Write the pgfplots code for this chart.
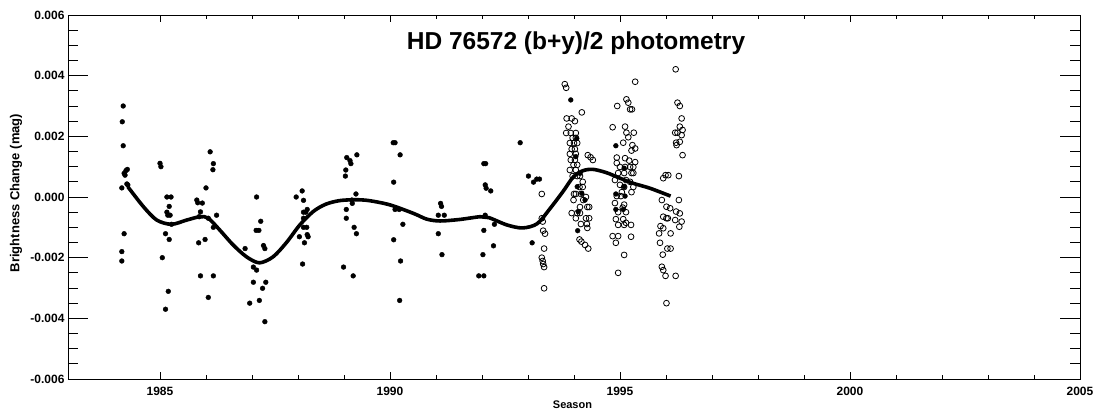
\documentclass[border=0pt]{standalone}
\usepackage{pgfplots}
\pgfplotsset{compat=1.18}
\usepackage{fontspec}
\setmainfont{Liberation Sans}
\pgfplotsset{
  commonax/.style={
    at={(0,0)}, anchor=south west,
    scale only axis, width=1012pt, height=364pt,
    xmin=1983, xmax=2005, ymin=-0.006, ymax=0.006,
    axis line style={line width=0.9pt},
    tick align=inside,
    every tick/.style={line width=0.8pt, black},
    scaled y ticks=false, scaled x ticks=false,
    ticklabel style={font=\fontsize{12}{14}\selectfont\bfseries},
  }
}
\begin{document}
\begin{tikzpicture}
% axis for the x ticks
\begin{axis}[commonax,
  major tick length=7pt, minor tick length=4pt,
  xtick={1985,1990,1995,2000,2005},
  xticklabels={1985,1990,1995,2000,2005},
  minor x tick num=4,
  ytick=\empty,
  xticklabel style={yshift=-5pt},
  xlabel={Season},
  every axis x label/.style={at={(rel axis cs:0.4985,-0.0714)},anchor=center,font=\fontsize{11}{13}\selectfont\bfseries},
]
\end{axis}
% axis for the y ticks and the data
\begin{axis}[commonax,
  major tick length=20pt, minor tick length=10pt,
  xtick=\empty,
  ytick={-0.006,-0.004,-0.002,0,0.002,0.004,0.006},
  yticklabels={-0.006,-0.004,-0.002,0.000,0.002,0.004,0.006},
  minor y tick num=3,
  ylabel={Brightness Change (mag)},
  every axis y label/.style={at={(rel axis cs:-0.0514,0.511)},anchor=center,rotate=90,font=\fontsize{13}{15}\selectfont\bfseries},
  clip=false,
]
% filled points
\addplot[only marks, mark=*, mark size=2.4pt, black] coordinates {
(1984.18,0.00248) (1984.20,0.00300) (1984.20,0.00169) (1984.22,0.00078) (1984.22,-0.00121)
(1984.24,0.00072) (1984.26,0.00087) (1984.29,0.00091) (1984.30,0.00040) (1984.28,0.00043)
(1984.17,0.00030) (1984.17,-0.00180) (1984.17,-0.00211)
(1985.00,0.00111) (1985.02,0.00100) (1985.15,0.00000) (1985.15,-0.00050) (1985.24,0.00000)
(1985.20,-0.00031) (1985.20,-0.00140) (1985.17,-0.00060) (1985.22,-0.00060) (1985.25,-0.00090)
(1985.12,-0.00121) (1985.05,-0.00200) (1985.18,-0.00311) (1985.12,-0.00370)
(1986.09,0.00149) (1986.16,0.00110) (1986.16,-0.00100) (1986.16,-0.00260) (1986.15,0.00090)
(1986.00,0.00030) (1985.80,-0.00010) (1985.82,-0.00019) (1985.92,-0.00020) (1985.88,-0.00049)
(1985.88,-0.00260) (1985.85,-0.00065) (1986.05,-0.00070) (1986.05,-0.00331) (1986.23,-0.00060)
(1985.84,-0.00151) (1985.98,-0.00140)
(1987.10,0.00000) (1987.10,-0.00241) (1987.19,-0.00080) (1987.09,-0.00110) (1987.15,-0.00110)
(1986.85,-0.00170) (1987.25,-0.00160) (1987.28,-0.00170) (1987.28,-0.00411) (1987.03,-0.00231)
(1987.03,-0.00281) (1987.30,-0.00281) (1987.23,-0.00301) (1986.95,-0.00350) (1987.16,-0.00341)
(1987.96,0.00000) (1988.09,0.00020) (1988.12,-0.00011) (1988.12,-0.00050) (1988.12,-0.00100)
(1988.20,-0.00041) (1988.20,-0.00124) (1988.17,-0.00050) (1988.12,-0.00070) (1988.19,-0.00100)
(1988.22,-0.00131) (1988.03,-0.00131) (1988.14,-0.00151) (1988.10,-0.00221)
(1989.06,0.00130) (1989.13,0.00120) (1989.15,0.00110) (1989.28,0.00139) (1989.04,0.00089)
(1989.03,0.00069) (1989.26,0.00010) (1989.17,-0.00010) (1989.18,-0.00021) (1989.05,-0.00041)
(1989.05,-0.00070) (1989.22,-0.00100) (1989.27,-0.00121) (1988.99,-0.00231) (1989.20,-0.00260)
(1990.07,0.00179) (1990.11,0.00179) (1990.11,-0.00041) (1990.22,0.00139) (1990.08,0.00049)
(1990.08,-0.00141) (1990.20,-0.00041) (1990.28,-0.00090) (1990.23,-0.00211) (1990.21,-0.00341)
(1991.10,-0.00021) (1991.12,-0.00031) (1991.05,-0.00060) (1991.05,-0.00121) (1991.18,-0.00060)
(1991.13,-0.00190)
(1992.04,0.00110) (1992.04,-0.00110) (1992.08,0.00110) (1992.07,0.00040) (1992.09,0.00029)
(1992.19,0.00020) (1992.07,-0.00060) (1992.27,-0.00090) (1992.25,-0.00161) (1992.02,-0.00190)
(1991.93,-0.00260) (1992.04,-0.00260)
(1992.83,0.00179) (1993.01,0.00069) (1993.12,0.00049) (1993.19,0.00059) (1993.25,0.00059)
(1993.09,-0.00151)
(1993.93,0.00320) (1994.08,-0.00111) (1994.06,0.00193) (1994.04,0.00133) (1994.13,0.00078)
(1994.07,0.00034) (1994.17,0.00012) (1994.24,-0.00010) (1994.09,-0.00048)
(1994.91,0.00169) (1995.09,0.00095) (1994.91,0.00010) (1994.91,-0.00041) (1995.07,-0.00041)
(1995.09,0.00034) (1995.11,0.00003)
};
% open points
\addplot[only marks, mark=o, mark size=2.9pt, mark options={line width=0.8pt}, black] coordinates {
(1993.30,0.00010) (1993.30,-0.00070) (1993.30,-0.00200) (1993.32,-0.00081) (1993.32,-0.00211)
(1993.33,-0.00111) (1993.33,-0.00221) (1993.37,-0.00121) (1993.35,-0.00170) (1993.35,-0.00301)
(1993.35,-0.00231)
(1993.80,0.00372) (1993.83,0.00360) (1994.17,0.00279) (1993.84,0.00259) (1993.95,0.00259)
(1994.02,0.00250) (1993.88,0.00232)
(1993.83,0.00211) (1993.93,0.00211) (1994.04,0.00211)
(1993.97,0.00195) (1994.04,0.00195)
(1993.91,0.00178) (1994.00,0.00178) (1994.07,0.00178)
(1993.95,0.00158) (1994.02,0.00158)
(1993.91,0.00142) (1994.04,0.00142)
(1994.30,0.00138) (1994.36,0.00131) (1994.41,0.00122)
(1993.93,0.00122) (1994.02,0.00122)
(1993.99,0.00106) (1994.07,0.00106)
(1993.91,0.00089) (1994.04,0.00089)
(1993.97,0.00069) (1994.07,0.00069) (1994.13,0.00069)
(1994.19,0.00050)
(1994.12,0.00033) (1994.19,0.00033)
(1994.00,0.00010) (1994.04,0.00010) (1994.15,0.00010)
(1994.26,0.00000)
(1993.99,-0.00010) (1994.20,-0.00010)
(1994.13,-0.00033) (1994.29,-0.00033) (1994.33,-0.00033)
(1993.95,-0.00053) (1994.07,-0.00053) (1994.13,-0.00053)
(1994.04,-0.00070) (1994.26,-0.00070) (1994.33,-0.00070)
(1994.15,-0.00089) (1994.28,-0.00089)
(1994.29,-0.00102)
(1994.12,-0.00140) (1994.16,-0.00147) (1994.24,-0.00158) (1994.31,-0.00170)
(1995.33,0.00380)
(1995.14,0.00322) (1995.18,0.00311) (1995.22,0.00289) (1995.26,0.00289)
(1994.94,0.00300) (1994.84,0.00230)
(1995.11,0.00232) (1995.14,0.00212) (1995.18,0.00197) (1995.30,0.00212)
(1995.07,0.00179)
(1995.27,0.00171) (1995.33,0.00160) (1995.25,0.00153)
(1994.93,0.00130) (1995.11,0.00128) (1995.20,0.00120) (1995.33,0.00115) (1994.93,0.00112)
(1995.00,0.00099) (1995.11,0.00099) (1995.22,0.00099) (1995.29,0.00099)
(1994.96,0.00079) (1995.09,0.00079) (1995.25,0.00079) (1995.29,0.00079)
(1994.89,0.00056) (1995.13,0.00056) (1995.22,0.00050) (1995.00,0.00040)
(1995.09,0.00033) (1995.29,0.00033)
(1995.04,0.00016) (1995.25,0.00016)
(1994.93,0.00003) (1995.02,0.00003)
(1994.89,-0.00020) (1995.09,-0.00025) (1995.06,-0.00035)
(1994.96,-0.00050) (1995.13,-0.00050)
(1994.91,-0.00073) (1995.07,-0.00073) (1995.13,-0.00085)
(1994.96,-0.00092) (1995.09,-0.00092) (1995.24,-0.00092)
(1994.84,-0.00129) (1994.96,-0.00129) (1994.91,-0.00151) (1995.24,-0.00131)
(1995.09,-0.00191) (1994.96,-0.00250)
(1996.21,0.00421)
(1996.25,0.00311) (1996.30,0.00300)
(1996.34,0.00259)
(1996.30,0.00232) (1996.36,0.00221)
(1996.20,0.00212) (1996.25,0.00212) (1996.34,0.00204)
(1996.22,0.00179) (1996.23,0.00171) (1996.30,0.00182)
(1996.36,0.00138)
(1995.99,0.00072) (1996.05,0.00072) (1995.94,0.00062) (1996.28,0.00069)
(1996.28,-0.00010) (1995.91,-0.00010) (1996.01,-0.00032) (1996.09,-0.00037)
(1996.22,-0.00048) (1996.30,-0.00054)
(1995.94,-0.00065) (1996.01,-0.00070) (1996.04,-0.00070)
(1995.88,-0.00096) (1995.94,-0.00103) (1995.85,-0.00120) (1996.10,-0.00120)
(1996.20,-0.00076) (1996.34,-0.00081) (1996.29,-0.00098)
(1995.87,-0.00151) (1996.03,-0.00170) (1996.10,-0.00170) (1995.93,-0.00190)
(1995.91,-0.00230) (1995.94,-0.00241) (1995.99,-0.00260) (1996.21,-0.00260)
(1996.01,-0.00350)
};
% fitted curve
\addplot[black, line width=3.6pt, smooth, tension=0.5, mark=none] coordinates {
(1984.30,0.00034) (1984.64,-0.00032) (1984.93,-0.00076) (1985.25,-0.00090) (1985.58,-0.00076)
(1985.87,-0.00065) (1986.05,-0.00070) (1986.30,-0.00109) (1986.59,-0.00158) (1986.88,-0.00197)
(1987.16,-0.00217) (1987.46,-0.00197) (1987.75,-0.00150) (1988.04,-0.00092) (1988.33,-0.00048)
(1988.60,-0.00024) (1988.90,-0.00012) (1989.25,-0.00009) (1989.55,-0.00012) (1990.00,-0.00026)
(1990.51,-0.00054) (1990.80,-0.00073) (1991.09,-0.00079) (1991.52,-0.00074) (1991.96,-0.00065)
(1992.15,-0.00068) (1992.54,-0.00092) (1992.88,-0.00102) (1993.20,-0.00088) (1993.48,-0.00038)
(1993.77,0.00020) (1993.99,0.00067) (1994.20,0.00087) (1994.42,0.00091) (1994.71,0.00080)
(1995.00,0.00062) (1995.29,0.00045) (1995.65,0.00029) (1996.10,0.00003)
};
\node[anchor=base, font=\fontsize{24.5}{28}\selectfont\bfseries] at (rel axis cs:0.502,0.904) {HD 76572 (b+y)/2 photometry};
\end{axis}
\pgfresetboundingbox
\useasboundingbox (-68pt,-37pt) rectangle (1029pt,379pt);
\end{tikzpicture}
\end{document}
